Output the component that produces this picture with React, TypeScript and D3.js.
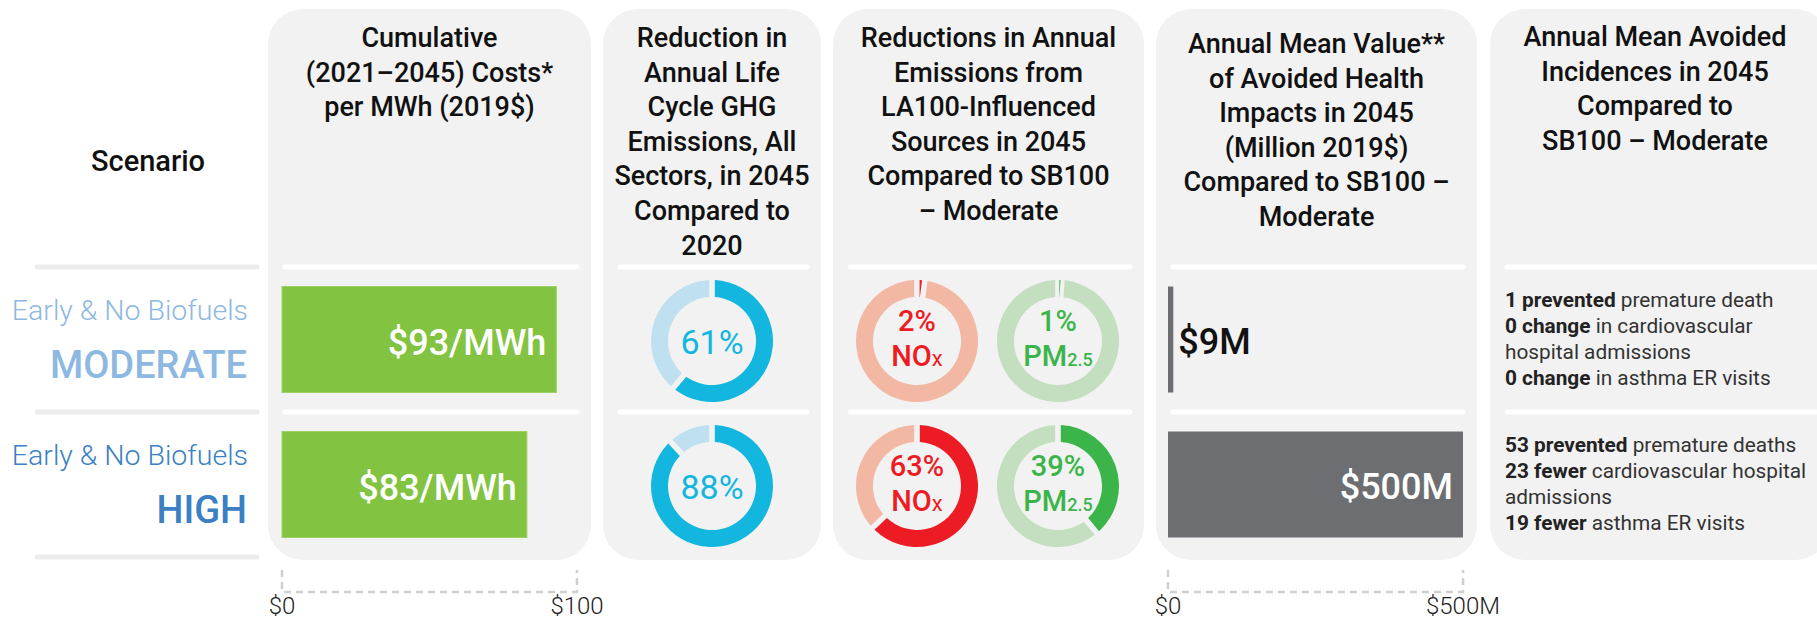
import React from 'react'
import * as d3 from 'd3'

// rows (scenarios)
const scenarios = ['MODERATE', 'HIGH']
const scenarioSub = ['Early & No Biofuels', 'Early & No Biofuels']
const scenarioColor = ['#8db8e1', '#3a80c3']

// series
const costPerMWh = [93, 83]
const ghgReduction = [61, 88]
const noxReduction = [2, 63]
const pmReduction = [1, 39]
const healthValue = [9, 500]

const costTicks = ['$0', '$100']
const healthTicks = ['$0', '$500M']

const titles = [
  ['Cumulative', '(2021–2045) Costs*', 'per MWh (2019$)'],
  ['Reduction in', 'Annual Life', 'Cycle GHG', 'Emissions, All', 'Sectors, in 2045', 'Compared to', '2020'],
  ['Reductions in Annual', 'Emissions from', 'LA100-Influenced', 'Sources in 2045', 'Compared to SB100', '– Moderate'],
  ['Annual Mean Value**', 'of Avoided Health', 'Impacts in 2045', '(Million 2019$)', 'Compared to SB100 –', 'Moderate'],
  ['Annual Mean Avoided', 'Incidences in 2045', 'Compared to', 'SB100 – Moderate'],
]

// [bold, rest] per line
const incidences = [
  [['1 prevented', ' premature death'], ['0 change', ' in cardiovascular'], ['', 'hospital admissions'], ['0 change', ' in asthma ER visits']],
  [['53 prevented', ' premature deaths'], ['23 fewer', ' cardiovascular hospital'], ['', 'admissions'], ['19 fewer', ' asthma ER visits']],
]

const W = 1817
const H = 621
const FONT = 'Roboto, sans-serif'

// panel x extents
const panels = [
  [268, 591], [603, 821], [833, 1144], [1156, 1477], [1490, 1830],
]
const titleTop = [47, 47, 47, 53, 46]

const yRow = d3.scaleBand<string>().domain(scenarios).range([267, 557])
const xCost = d3.scaleLinear().domain([0, 100]).range([282, 577])
const xHealth = d3.scaleLinear().domain([0, 500]).range([1168, 1463])
const angle = d3.scaleLinear().domain([0, 100]).range([0, 2 * Math.PI])

const PAD = 0.075
const ring = d3.arc<any>().innerRadius(44).outerRadius(61)

function seg(v0: number, v1: number) {
  const a0 = angle(v0), a1 = angle(v1)
  return ring({startAngle: a0, endAngle: a1, padAngle: Math.min(PAD, (a1 - a0) * 0.55)}) as string
}

const Donut = ({cx, cy, value, dark, light}: any) => (
  <g transform={`translate(${cx},${cy})`}>
    <path d={seg(value, 100)} fill={light}/>
    <path d={seg(0, value)} fill={dark}/>
  </g>
)

const App = () => {
  const barTop = (i: number) => (yRow(scenarios[i]) as number) + 19.5
  const barH = 106
  const mid = (i: number) => (yRow(scenarios[i]) as number) + yRow.bandwidth() / 2 + 1.5
  const sepYs = [267, 412, 557]

  return (
    <svg width={W} height={H} style={{position: 'absolute', left: 0, top: 0}} fontFamily={FONT}>
      <rect width={W} height={H} fill="#fff"/>

      {/* panels */}
      {panels.map(([x0, x1], i) => (
        <rect key={i} x={x0} y={9} width={x1 - x0} height={551} rx={35} fill="#f2f2f2"/>
      ))}

      {/* separators */}
      {sepYs.map((y, k) => (
        <line key={'l' + k} x1={37} x2={257} y1={y} y2={y} stroke="#ececec" strokeWidth={5} strokeLinecap="round"/>
      ))}
      {sepYs.slice(0, 2).map((y, k) => panels.map(([x0, x1], i) => (
        <line key={'s' + k + i} x1={x0 + 17} x2={Math.min(x1 - 14, W + 10)} y1={y} y2={y} stroke="#fff" strokeWidth={5} strokeLinecap="round"/>
      )))}

      {/* header */}
      <text x={148} y={171} textAnchor="middle" fontSize={29} fontWeight={500} fill="#111">Scenario</text>
      {titles.map((lines, i) => {
        const cx = i === 4 ? 1655 : (panels[i][0] + panels[i][1]) / 2
        return lines.map((t, j) => (
          <text key={i + '-' + j} x={cx} y={titleTop[i] + j * 34.6} textAnchor="middle" fontSize={27} fontWeight={500} fill="#111">{t}</text>
        ))
      })}

      {/* scenario labels */}
      {scenarios.map((s, i) => (
        <g key={s}>
          <text x={248} y={barTop(i) + 33} textAnchor="end" fontSize={28.5} fontWeight={300} fill={scenarioColor[i]}>{scenarioSub[i]}</text>
          <text x={247} y={barTop(i) + 91} textAnchor="end" fontSize={38} fontWeight={500} fill={scenarioColor[i]}>{s}</text>
        </g>
      ))}

      {/* costs */}
      {costPerMWh.map((v, i) => (
        <g key={'c' + i}>
          <rect x={xCost(0)} y={barTop(i)} width={xCost(v) - xCost(0)} height={barH} fill="#82c341" stroke="#9bd063" strokeWidth={1}/>
          <text x={xCost(v) - 10} y={barTop(i) + 68} textAnchor="end" fontSize={36} fontWeight={500} fill="#fff">{`$${v}/MWh`}</text>
        </g>
      ))}

      {/* GHG donuts */}
      {ghgReduction.map((v, i) => (
        <g key={'g' + i}>
          <Donut cx={712} cy={mid(i)} value={v} dark="#12b6df" light="#bfe0f0"/>
          <text x={712} y={mid(i) + 12.5} textAnchor="middle" fontSize={34} fill="#12b6df">{v}%</text>
        </g>
      ))}

      {/* NOx / PM donuts */}
      {noxReduction.map((v, i) => (
        <g key={'n' + i}>
          <Donut cx={917} cy={mid(i)} value={v} dark="#ed1c24" light="#f3b8a4"/>
          <text x={917} y={mid(i) - 10} textAnchor="middle" fontSize={29} fontWeight={500} fill="#ed1c24">{v}%</text>
          <text x={917} y={mid(i) + 25} textAnchor="middle" fontSize={29} fontWeight={500} fill="#ed1c24">NO<tspan fontSize={22} fontWeight={400}>x</tspan></text>
        </g>
      ))}
      {pmReduction.map((v, i) => (
        <g key={'p' + i}>
          <Donut cx={1058} cy={mid(i)} value={v} dark="#3bb54a" light="#c3dfbf"/>
          <text x={1058} y={mid(i) - 10} textAnchor="middle" fontSize={29} fontWeight={500} fill="#3bb54a">{v}%</text>
          <text x={1058} y={mid(i) + 25} textAnchor="middle" fontSize={29} fontWeight={500} fill="#3bb54a">PM<tspan fontSize={18}>2.5</tspan></text>
        </g>
      ))}

      {/* health value */}
      {healthValue.map((v, i) => {
        const w = xHealth(v) - xHealth(0)
        const inside = w > 150
        return (
          <g key={'h' + i}>
            <rect x={xHealth(0)} y={barTop(i)} width={w} height={barH} fill="#6d6e71"/>
            <text x={inside ? xHealth(v) - 10 : xHealth(v) + 5} y={barTop(i) + 67} textAnchor={inside ? 'end' : 'start'}
              fontSize={36} fontWeight={500} fill={inside ? '#fff' : '#111'}>{`$${v}M`}</text>
          </g>
        )
      })}

      {/* incidences */}
      {incidences.map((lines, i) => lines.map(([b, r], j) => (
        <text key={'i' + i + j} x={1505} y={barTop(i) + 20 + j * 26} fontSize={20.8} fill="#333">
          {b && <tspan fontWeight={700} fill="#222">{b}</tspan>}
          <tspan>{r}</tspan>
        </text>
      )))}

      {/* axis brackets */}
      {[[xCost, [0, 100], costTicks], [xHealth, [0, 500], healthTicks]].map(([sc, dom, labels]: any, k) => (
        <g key={'ax' + k}>
          <path d={`M${sc(dom[0])},570V592H${sc(dom[1])}V570`} fill="none" stroke="#d0d0d0" strokeWidth={2.5} strokeDasharray="7 5"/>
          {dom.map((d: number, j: number) => (
            <text key={j} x={sc(d)} y={614} textAnchor="middle" fontSize={24} fontWeight={300} fill="#222">{labels[j]}</text>
          ))}
        </g>
      ))}
    </svg>
  )
}

export default App
